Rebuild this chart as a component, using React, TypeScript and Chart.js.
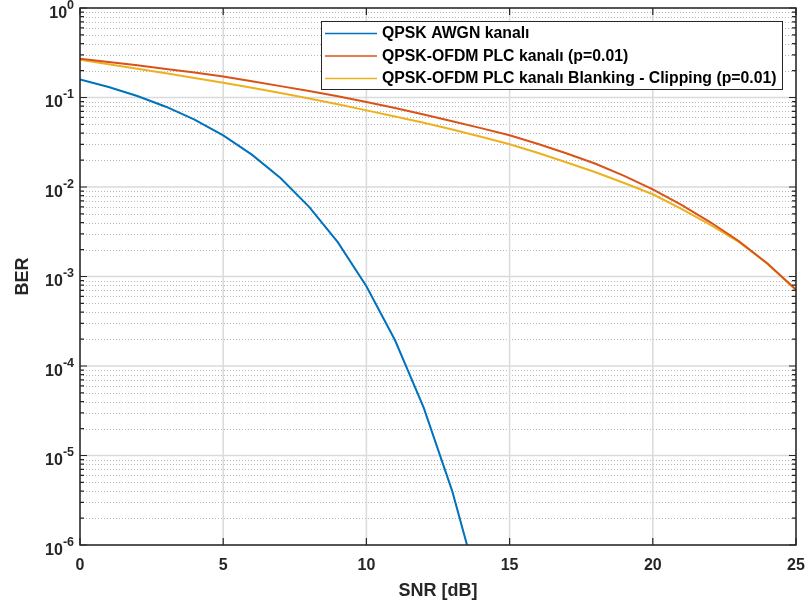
import { useEffect, useRef } from 'react';
import { Chart, registerables } from 'chart.js';

Chart.register(...registerables);

// ---- data ----
const snrDb = [0, 1, 2, 3, 4, 5, 6, 7, 8, 9, 10, 11, 12, 13, 14, 15, 16, 17, 18, 19, 20, 21, 22, 23, 24, 25];
const awgnSnr = [0, 1, 2, 3, 4, 5, 6, 7, 8, 9, 10, 11, 12, 13, 14];
const awgnBer = [0.1587, 0.1309, 0.104, 0.0789, 0.0565, 0.0377, 0.023, 0.0126, 0.006, 0.00242, 0.00078, 0.000194, 0.0000343, 0.00000397, 0.00000027];
const plcBer = [0.271, 0.249, 0.229, 0.208, 0.19, 0.172, 0.152, 0.134, 0.118, 0.103, 0.0889, 0.0762, 0.0647, 0.0544, 0.0455, 0.0378, 0.0302, 0.0237, 0.0182, 0.0133, 0.00942, 0.00631, 0.00406, 0.00249, 0.0014, 0.000716];
const plcBlankClipBer = [0.264, 0.2355, 0.21, 0.1866, 0.1656, 0.1462, 0.1288, 0.1122, 0.0977, 0.0841, 0.0718, 0.0614, 0.0521, 0.0439, 0.0365, 0.03, 0.024, 0.0188, 0.0146, 0.0111, 0.0083, 0.00569, 0.0038, 0.00243, 0.0014, 0.0007];

const seriesLabels = ['QPSK AWGN kanalı', 'QPSK-OFDM PLC kanalı (p=0.01)', 'QPSK-OFDM PLC kanalı Blanking - Clipping (p=0.01)'];
const seriesColors = ['#0072BD', '#D95319', '#EDB120'];

const xTicks = [0, 5, 10, 15, 20, 25];
const yExponents = [-6, -5, -4, -3, -2, -1, 0];
const minorMultipliers = [2, 3, 4, 5, 6, 7, 8, 9];

const xTitle = 'SNR [dB]';
const yTitle = 'BER';

const FONT = "'Liberation Sans', Arial, Helvetica, sans-serif";
const AXIS = '#262626';

const matlabPlugin = {
  id: 'matlabAxes',
  beforeDatasetsDraw(chart: any) {
    const { ctx, chartArea: a, scales } = chart;
    const xs = scales.x;
    const ys = scales.y;
    ctx.save();
    // minor dotted y grid
    ctx.strokeStyle = '#b8b8b8';
    ctx.lineWidth = 1;
    ctx.setLineDash([1, 2]);
    for (const e of yExponents.slice(0, -1)) {
      for (const m of minorMultipliers) {
        const py = Math.round(ys.getPixelForValue(m * Math.pow(10, e))) + 0.5;
        ctx.beginPath();
        ctx.moveTo(a.left, py);
        ctx.lineTo(a.right, py);
        ctx.stroke();
      }
    }
    ctx.setLineDash([]);
    // major grid
    ctx.strokeStyle = '#dadada';
    ctx.lineWidth = 1.5;
    for (const e of yExponents) {
      const py = ys.getPixelForValue(Math.pow(10, e));
      ctx.beginPath();
      ctx.moveTo(a.left, py);
      ctx.lineTo(a.right, py);
      ctx.stroke();
    }
    for (const t of xTicks) {
      const px = xs.getPixelForValue(t);
      ctx.beginPath();
      ctx.moveTo(px, a.top);
      ctx.lineTo(px, a.bottom);
      ctx.stroke();
    }
    ctx.restore();
  },
  afterDatasetsDraw(chart: any) {
    const { ctx, chartArea: a, scales } = chart;
    const xs = scales.x;
    const ys = scales.y;
    ctx.save();
    // ticks
    ctx.strokeStyle = AXIS;
    ctx.lineWidth = 1.2;
    for (const t of xTicks) {
      const px = xs.getPixelForValue(t);
      ctx.beginPath();
      ctx.moveTo(px, a.bottom);
      ctx.lineTo(px, a.bottom - 7);
      ctx.moveTo(px, a.top);
      ctx.lineTo(px, a.top + 7);
      ctx.stroke();
    }
    for (const e of yExponents) {
      const py = ys.getPixelForValue(Math.pow(10, e));
      ctx.beginPath();
      ctx.moveTo(a.left, py);
      ctx.lineTo(a.left + 7, py);
      ctx.moveTo(a.right, py);
      ctx.lineTo(a.right - 7, py);
      ctx.stroke();
      if (e < 0) {
        for (const m of minorMultipliers) {
          const pm = ys.getPixelForValue(m * Math.pow(10, e));
          ctx.beginPath();
          ctx.moveTo(a.left, pm);
          ctx.lineTo(a.left + 4, pm);
          ctx.moveTo(a.right, pm);
          ctx.lineTo(a.right - 4, pm);
          ctx.stroke();
        }
      }
    }
    // box
    ctx.lineWidth = 1.5;
    ctx.strokeRect(a.left, a.top, a.right - a.left, a.bottom - a.top);

    // tick labels
    ctx.fillStyle = AXIS;
    ctx.font = `bold 16px ${FONT}`;
    ctx.textAlign = 'center';
    ctx.textBaseline = 'alphabetic';
    for (const t of xTicks) {
      ctx.fillText(String(t), xs.getPixelForValue(t), a.bottom + 25);
    }
    for (const e of yExponents) {
      const py = ys.getPixelForValue(Math.pow(10, e));
      const expStr = String(e);
      ctx.font = `bold 12.5px ${FONT}`;
      const ew = ctx.measureText(expStr).width;
      ctx.font = `bold 16px ${FONT}`;
      const bw = ctx.measureText('10').width;
      const right = a.left - 6;
      ctx.textAlign = 'left';
      ctx.fillText('10', right - ew - bw, py + 9.5);
      ctx.font = `bold 12.5px ${FONT}`;
      ctx.fillText(expStr, right - ew, py + 0.5);
    }

    // axis titles
    ctx.font = `bold 18px ${FONT}`;
    ctx.textAlign = 'center';
    ctx.fillText(xTitle, (a.left + a.right) / 2, 596);
    ctx.save();
    ctx.translate(28, (a.top + a.bottom) / 2);
    ctx.rotate(-Math.PI / 2);
    ctx.fillText(yTitle, 0, 0);
    ctx.restore();

    // legend
    const lx = 321, ly = 21, lw = 461, lh = 68;
    ctx.fillStyle = '#ffffff';
    ctx.fillRect(lx, ly, lw, lh);
    ctx.strokeStyle = AXIS;
    ctx.lineWidth = 1;
    ctx.strokeRect(lx + 0.5, ly + 0.5, lw, lh);
    ctx.font = `bold 15.8px ${FONT}`;
    ctx.textAlign = 'left';
    ctx.textBaseline = 'middle';
    chart.data.datasets.forEach((ds: any, i: number) => {
      const ry = 33.5 + i * 22.5;
      ctx.strokeStyle = ds.borderColor;
      ctx.lineWidth = 1.5;
      ctx.beginPath();
      ctx.moveTo(325, ry);
      ctx.lineTo(377, ry);
      ctx.stroke();
      ctx.fillStyle = '#000000';
      ctx.fillText(ds.label, 382, ry + 0.5);
    });
    ctx.restore();
  },
};

export default function App() {
  const ref = useRef<HTMLCanvasElement | null>(null);
  useEffect(() => {
    if (!ref.current) return;
    const toPts = (xs: number[], ys: number[]) => xs.map((x, i) => ({ x, y: ys[i] }));
    const chart = new Chart(ref.current, {
      type: 'line',
      data: {
        datasets: [
          { label: seriesLabels[0], data: toPts(awgnSnr, awgnBer), borderColor: seriesColors[0], borderWidth: 2, pointRadius: 0, fill: false, tension: 0 },
          { label: seriesLabels[1], data: toPts(snrDb, plcBer), borderColor: seriesColors[1], borderWidth: 2, pointRadius: 0, fill: false, tension: 0 },
          { label: seriesLabels[2], data: toPts(snrDb, plcBlankClipBer), borderColor: seriesColors[2], borderWidth: 2, pointRadius: 0, fill: false, tension: 0 },
        ],
      },
      options: {
        responsive: false,
        animation: false,
        devicePixelRatio: 1,
        layout: { padding: { left: 80, top: 8, right: 14, bottom: 68 } },
        plugins: { legend: { display: false }, tooltip: { enabled: false } },
        scales: {
          x: { type: 'linear', min: 0, max: 25, display: false },
          y: { type: 'logarithmic', min: 1e-6, max: 1, display: false },
        },
      },
      plugins: [matlabPlugin],
    } as any);
    return () => chart.destroy();
  }, []);
  return (
    <div style={{ position: 'absolute', left: 0, top: 0, width: 810, height: 613, background: '#ffffff' }}>
      <canvas ref={ref} width={810} height={613} style={{ display: 'block' }} />
    </div>
  );
}
